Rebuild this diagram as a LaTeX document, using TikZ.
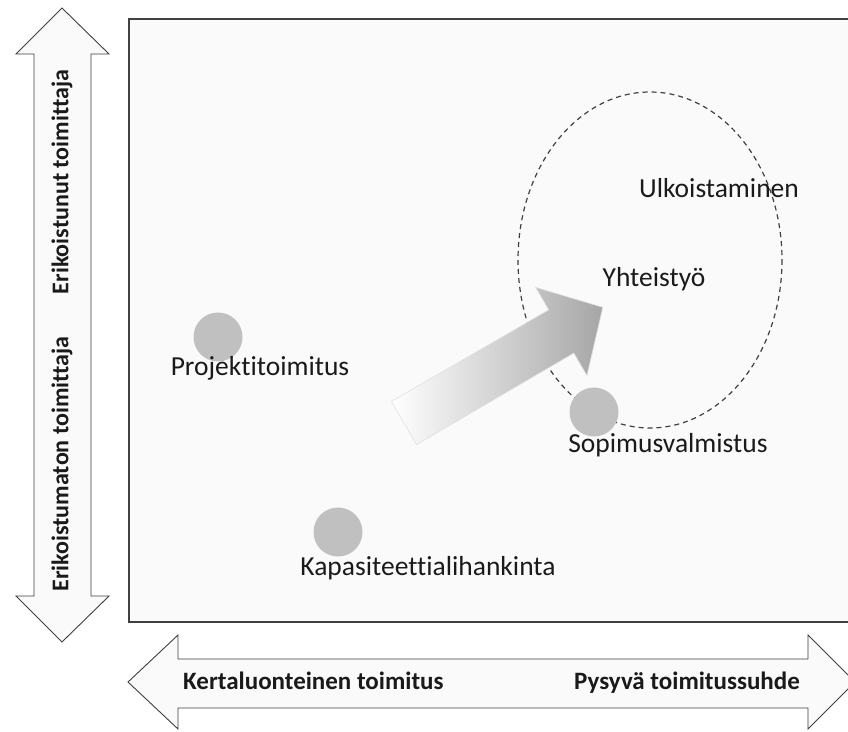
\documentclass[tikz,border=0pt]{standalone}
\usepackage{fontspec}
\setmainfont{Carlito}[Ligatures=NoCommon]
\usetikzlibrary{shadings}
\definecolor{panel}{HTML}{FAFAFA}
\definecolor{edge}{HTML}{404040}
\definecolor{dot}{HTML}{C0C0C0}
\definecolor{ink}{HTML}{1A1A1A}
\tikzset{
  bigarrow/.style={draw=edge, line width=0.9pt, fill=panel, line join=miter},
  axislabel/.style={font=\bfseries\fontsize{25}{29}\selectfont, inner sep=0pt, text=ink},
  vlabel/.style={font=\bfseries\fontsize{24}{28}\selectfont, inner sep=0pt, text=ink, rotate=90},
  itemlabel/.style={font=\fontsize{27.5}{32}\selectfont, inner sep=0pt, anchor=base, text=ink},
  marker/.style={circle, fill=dot, minimum size=49pt, inner sep=0pt},
}
\begin{document}
\begin{tikzpicture}[x=1pt, y=-1pt]
\useasboundingbox (0,0) rectangle (848,731);
\fill[white] (0,0) rectangle (848,731);
% plot area
\draw[draw=edge, line width=1.6pt, fill=panel] (129,19) rectangle (860,622);
% vertical double arrow
\draw[bigarrow] (62,8) -- (109,54) -- (91,54) -- (91,596) -- (109,596) -- (62,642)
  -- (16,596) -- (34,596) -- (34,54) -- (16,54) -- cycle;
\node[vlabel] (spec) at (62,182) {Erikoistunut toimittaja};
\node[vlabel] (gen) at (62,464) {Erikoistumaton toimittaja};
% horizontal double arrow
\draw[bigarrow] (128,682) -- (178,635) -- (178,659) -- (808,659) -- (808,635) -- (855,682)
  -- (808,729) -- (808,708) -- (178,708) -- (178,729) -- cycle;
\node[axislabel, anchor=base west] (once) at (183,689) {Kertaluonteinen toimitus};
\node[axislabel, anchor=base east] (lasting) at (800,689) {Pysyvä toimitussuhde};
% dashed region
\draw[draw=edge, line width=1.2pt, dash pattern=on 5pt off 4pt] (650,260) ellipse [x radius=132, y radius=168];
% gradient arrow
\begin{scope}[shift={(404,423)}, rotate=30.2]
  \shade[left color=white, right color=black!35, draw=black!12, line width=0.6pt]
    (0,-25) -- (182,-25) -- (182,-51) -- (230,0) -- (182,51) -- (182,25) -- (0,25) -- cycle;
\end{scope}
% markers
\node[marker] (p1) at (218,337) {};
\node[marker] (p2) at (338,532) {};
\node[marker] (p3) at (594,412) {};
\node[itemlabel] (l1) at (260,375) {Projektitoimitus};
\node[itemlabel] (l2) at (428,575) {Kapasiteettialihankinta};
\node[itemlabel] (l3) at (668,452) {Sopimusvalmistus};
\node[itemlabel] (l4) at (719,197) {Ulkoistaminen};
\node[itemlabel] (l5) at (654,286) {Yhteistyö};
\end{tikzpicture}
\end{document}
